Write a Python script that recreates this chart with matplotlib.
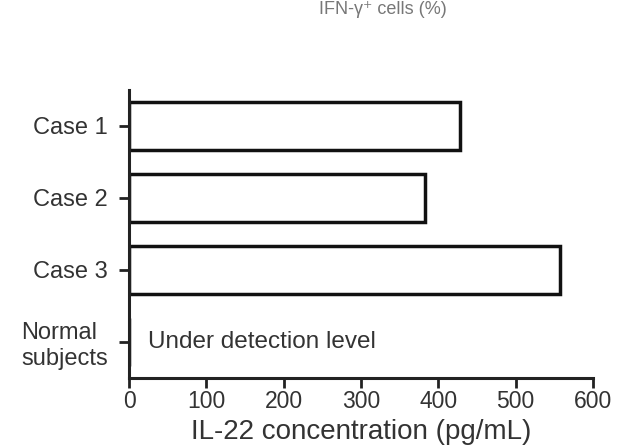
import matplotlib
matplotlib.use("Agg")
import matplotlib.pyplot as plt

categories = ["Case 1", "Case 2", "Case 3", "Normal\nsubjects"]
values = [428, 383, 557, 0]
xticks = [0, 100, 200, 300, 400, 500, 600]
xlabel = "IL-22 concentration (pg/mL)"
note = "Under detection level"
top_text = "IFN-γ⁺ cells (%)"

plt.rcParams['font.family'] = ['Liberation Sans', 'DejaVu Sans']

fig = plt.figure(figsize=(6.25, 4.45), dpi=100)
ax = fig.add_axes([0.2064, 0.1506, 0.9488 - 0.2064, 0.7978 - 0.1506])

ypos = list(range(len(categories)))
ax.barh(ypos, values, height=0.67, color='white', edgecolor='#111111', linewidth=2.5)
ax.set_ylim(3.5, -0.5)
ax.set_xlim(0, 600)
ax.set_xticks(xticks)
ax.set_xticklabels([str(v) for v in xticks], fontsize=16.5, color='#333333')
ax.set_yticks(ypos)
ax.set_yticklabels(categories, fontsize=17, color='#333333', multialignment='left')
ax.tick_params(axis='y', length=7, width=2, pad=8, color='#222222')
ax.tick_params(axis='x', length=7, width=2, pad=2, color='#222222')
for s in ['top', 'right']:
    ax.spines[s].set_visible(False)
for s in ['left', 'bottom']:
    ax.spines[s].set_linewidth(2.2)
    ax.spines[s].set_color('#222222')
ax.set_xlabel(xlabel, fontsize=20, color='#333333', labelpad=4)
ax.text(25, 3, note, fontsize=17.5, color='#333333', va='center', ha='left')

fig.text(383 / 625, 1 - 1 / 445, top_text, fontsize=13, color='#777777', ha='center', va='top')

fig.savefig("out.png", dpi=100, facecolor='white')
